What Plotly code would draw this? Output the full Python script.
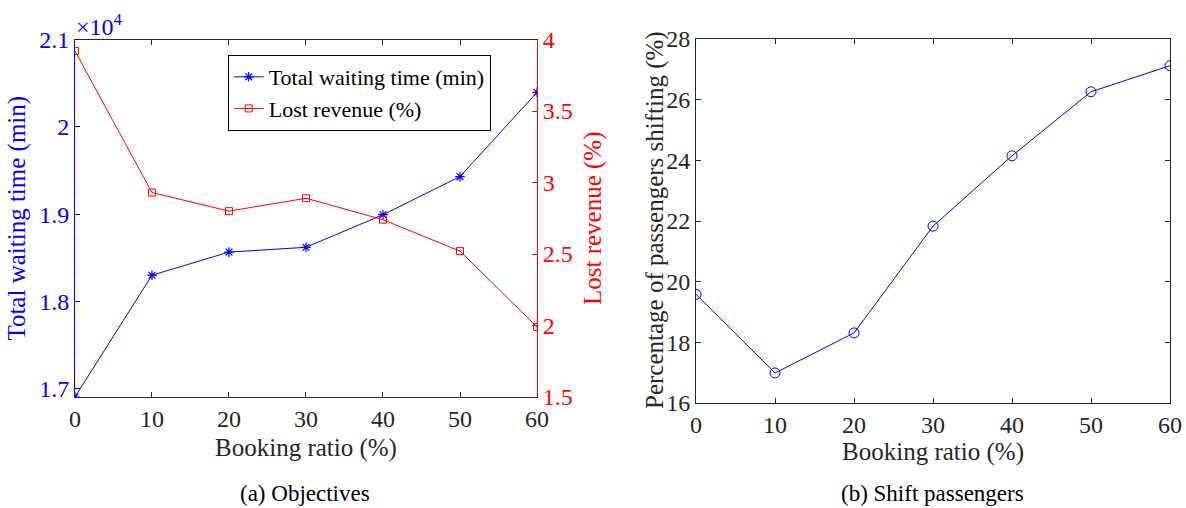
import plotly.graph_objects as go

# ---- data ----
booking_ratio = [0, 10, 20, 30, 40, 50, 60]
total_waiting_time = [16905, 18300, 18565, 18620, 18993, 19430, 20395]   # min
lost_revenue = [3.92, 2.93, 2.80, 2.89, 2.74, 2.52, 1.99]                 # %
shift_pct = [19.58, 16.99, 18.31, 21.83, 24.15, 26.26, 27.12]             # %

x_ticks = [0, 10, 20, 30, 40, 50, 60]
wt_tickvals = [17000, 18000, 19000, 20000, 21000]
wt_ticktext = ["1.7", "1.8", "1.9", "2", "2.1"]
lr_tickvals = [1.5, 2, 2.5, 3, 3.5, 4]
lr_ticktext = ["1.5", "2", "2.5", "3", "3.5", "4"]
sp_tickvals = [16, 18, 20, 22, 24, 26, 28]

FONT = "Liberation Serif"
GRAY = "#262626"
BLUE = "#0000ff"
RED = "#ff0000"
TS = 24   # tick labels
TT = 25   # axis titles

fig = go.Figure()
fig.add_trace(go.Scatter(
    x=booking_ratio, y=total_waiting_time, mode="lines+markers",
    name="Total waiting time (min)",
    line=dict(color=BLUE, width=1),
    marker=dict(symbol="asterisk-open", size=8, line=dict(color=BLUE, width=1.2)),
    xaxis="x", yaxis="y"))
fig.add_trace(go.Scatter(
    x=booking_ratio, y=lost_revenue, mode="lines+markers",
    name="Lost revenue (%)",
    line=dict(color=RED, width=1),
    marker=dict(symbol="square-open", size=7, color=RED, line=dict(color=RED, width=1)),
    xaxis="x", yaxis="y2"))
fig.add_trace(go.Scatter(
    x=booking_ratio, y=shift_pct, mode="lines+markers",
    name="Shift passengers", showlegend=False,
    line=dict(color=BLUE, width=1),
    marker=dict(symbol="circle-open", size=10, color=BLUE, line=dict(color=BLUE, width=1)),
    xaxis="x3", yaxis="y3"))

common_x = dict(range=[0, 60], tickvals=x_ticks, ticks="inside", ticklen=5,
                showline=True, linewidth=1, linecolor=GRAY, tickcolor=GRAY,
                mirror="ticks", showgrid=False, zeroline=False, automargin=False,
                tickfont=dict(family=FONT, size=TS, color=GRAY))

fig.update_layout(
    width=1186, height=508,
    margin=dict(l=0, r=0, t=0, b=0),
    paper_bgcolor="white", plot_bgcolor="white",
    font=dict(family=FONT, color=GRAY),
    xaxis=dict(domain=[0.0632, 0.4528], anchor="y",
               title=dict(text="Booking ratio (%)", font=dict(family=FONT, size=TT, color=GRAY), standoff=7),
               **common_x),
    yaxis=dict(domain=[0.2185, 0.9222], anchor="x", range=[16905, 21000],
               tickvals=wt_tickvals, ticktext=wt_ticktext,
               ticks="inside", ticklen=5, tickcolor=BLUE,
               showline=True, linewidth=1, linecolor=BLUE,
               showgrid=False, zeroline=False, automargin=False,
               tickfont=dict(family=FONT, size=TS, color=BLUE),
               title=dict(text="Total waiting time (min)", font=dict(family=FONT, size=TT, color=BLUE), standoff=6)),
    yaxis2=dict(overlaying="y", side="right", anchor="x", range=[1.5, 4],
                tickvals=lr_tickvals, ticktext=lr_ticktext,
                ticks="inside", ticklen=5, tickcolor=RED,
                showline=True, linewidth=1, linecolor=RED,
                showgrid=False, zeroline=False, automargin=False,
                tickfont=dict(family=FONT, size=TS, color=RED),
                title=dict(text="Lost revenue (%)", font=dict(family=FONT, size=TT, color=RED), standoff=11)),
    xaxis3=dict(domain=[0.5869, 0.9865], anchor="y3",
                title=dict(text="Booking ratio (%)", font=dict(family=FONT, size=TT, color=GRAY), standoff=1),
                **common_x),
    yaxis3=dict(domain=[0.2067, 0.9232], anchor="x3", range=[16, 28],
                tickvals=sp_tickvals, ticks="inside", ticklen=5, tickcolor=GRAY,
                showline=True, linewidth=1, linecolor=GRAY, mirror="ticks",
                showgrid=False, zeroline=False, automargin=False,
                tickfont=dict(family=FONT, size=TS, color=GRAY)),
    legend=dict(x=0.192, y=0.8917, xanchor="left", yanchor="top",
                bordercolor="black", borderwidth=1, bgcolor="white",
                font=dict(family=FONT, size=22, color="black"),
                tracegroupgap=0, itemwidth=30),
    showlegend=True,
)

fig.add_annotation(text="Percentage of passengers shifting (%)", xref="paper", yref="paper",
                   x=655/1186, y=1 - 220/508, xanchor="center", yanchor="middle", textangle=-90,
                   showarrow=False, font=dict(family=FONT, size=TT, color=GRAY))
fig.add_annotation(text="×10<sup>4</sup>", xref="paper", yref="paper",
                   x=74/1186, y=1 - 42/508, xanchor="left", yanchor="bottom",
                   showarrow=False, font=dict(family=FONT, size=24, color=BLUE))
fig.add_annotation(text="(a) Objectives", xref="paper", yref="paper",
                   x=305/1186, y=1 - 493/508, xanchor="center", yanchor="middle",
                   showarrow=False, font=dict(family=FONT, size=23, color="black"))
fig.add_annotation(text="(b) Shift passengers", xref="paper", yref="paper",
                   x=932/1186, y=1 - 493/508, xanchor="center", yanchor="middle",
                   showarrow=False, font=dict(family=FONT, size=23, color="black"))

fig.write_html("out.html", config={"displayModeBar": False},
               post_script="document.body.style.margin='0';document.body.style.overflow='hidden';")
